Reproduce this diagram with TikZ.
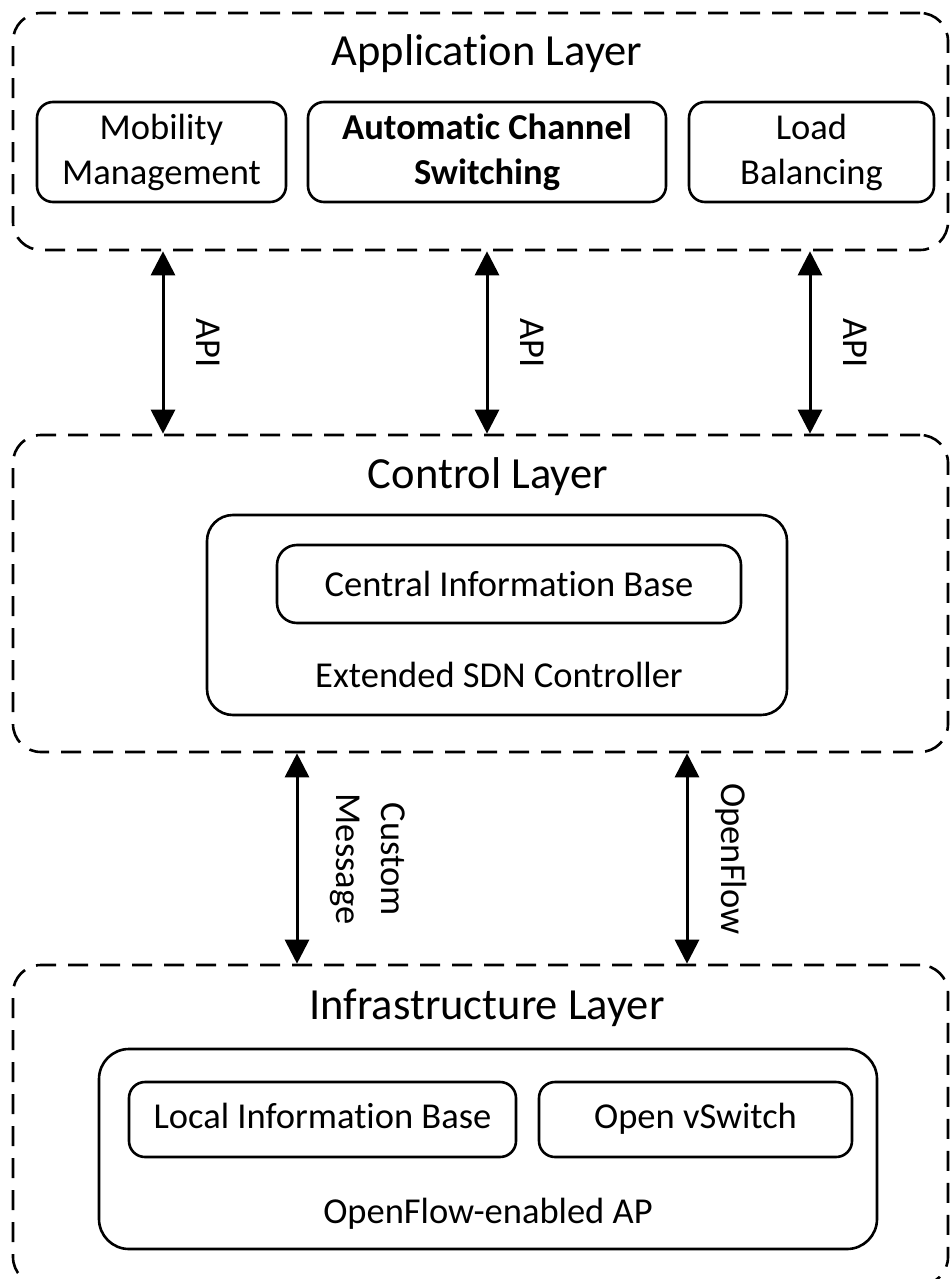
\documentclass[tikz,border=0pt]{standalone}
\usepackage{fontspec}
\setmainfont{Carlito}[Ligatures=NoCommon]
\usetikzlibrary{arrows.meta, positioning}

\begin{document}
\begin{tikzpicture}[
        x=1pt, y=-1pt,
        layer/.style={rectangle, draw, dash pattern=on 20pt off 12pt, line width=2.6pt, rounded corners=28pt, inner sep=0pt},
        box/.style={rectangle, draw, line width=2.6pt, rounded corners=16pt, align=center, inner sep=0pt, font=\fontsize{36.5}{45}\selectfont},
        title/.style={font=\fontsize{44.5}{50}\selectfont, anchor=base},
        txt/.style={font=\fontsize{36.5}{45}\selectfont, align=center},
        arr/.style={{Triangle[length=24pt,width=24pt]}-{Triangle[length=24pt,width=24pt]}, line width=3pt},
        lbl/.style={font=\fontsize{36.5}{45}\selectfont, align=center, rotate=-90},
    ]
        \useasboundingbox (0,0) rectangle (952,1279);

        % Application layer
        \node[layer, minimum width=935pt, minimum height=237pt] (app) at (480.5,131.5) {};
        \node[title] (apptitle) at (487,66) {Application Layer};
        \node[box, minimum width=249pt, minimum height=100pt] (mobility) at (161.5,152) {Mobility\\Management};
        \node[box, minimum width=358pt, minimum height=100pt, font=\fontsize{36.5}{45}\selectfont\bfseries] (acs) at (487,152) {Automatic Channel\\Switching};
        \node[box, minimum width=245pt, minimum height=100pt] (balancing) at (811.5,152) {Load\\Balancing};

        % Control layer
        \node[layer, minimum width=935pt, minimum height=317pt] (ctrl) at (480.5,593.5) {};
        \node[title] (ctrltitle) at (488,488) {Control Layer};
        \node[box, minimum width=580pt, minimum height=200pt, rounded corners=26pt] (sdn) at (497,615) {};
        \node[box, minimum width=464pt, minimum height=78pt, rounded corners=20pt] (cib) at (509,584) {Central Information Base};
        \node[txt] (sdnlabel) at (499,675) {Extended SDN Controller};

        % Infrastructure layer
        \node[layer, minimum width=935pt, minimum height=320pt] (infra) at (480.5,1125) {};
        \node[title] (infratitle) at (487,1019) {Infrastructure Layer};
        \node[box, minimum width=778pt, minimum height=200pt, rounded corners=30pt] (ap) at (488,1149) {};
        \node[box, minimum width=387pt, minimum height=75pt, text height=26pt, text depth=8pt] (lib) at (322.5,1119.5) {Local Information Base};
        \node[box, minimum width=313pt, minimum height=75pt, text height=26pt, text depth=8pt] (ovs) at (695.5,1119.5) {Open vSwitch};
        \node[txt] (aplabel) at (488,1214) {OpenFlow-enabled AP};

        % Arrows between layers
        \coordinate (api1) at (163,0);
        \coordinate (api2) at (487,0);
        \coordinate (api3) at (810,0);
        \coordinate (custom) at (297,0);
        \coordinate (of) at (687,0);

        \draw[arr] (api1 |- app.south) -- (api1 |- ctrl.north);
        \draw[arr] (api2 |- app.south) -- (api2 |- ctrl.north);
        \draw[arr] (api3 |- app.south) -- (api3 |- ctrl.north);
        \draw[arr] (custom |- ctrl.south) -- (custom |- infra.north);
        \draw[arr] (of |- ctrl.south) -- (of |- infra.north);

        \node[lbl] (apilabel1) at (208,343) {API};
        \node[lbl] (apilabel2) at (532,343) {API};
        \node[lbl] (apilabel3) at (855,343) {API};
        \node[lbl] (customlabel) at (368,859) {Custom\\Message};
        \node[lbl] (oflabel) at (731,859) {OpenFlow};
    \end{tikzpicture}
\end{document}
